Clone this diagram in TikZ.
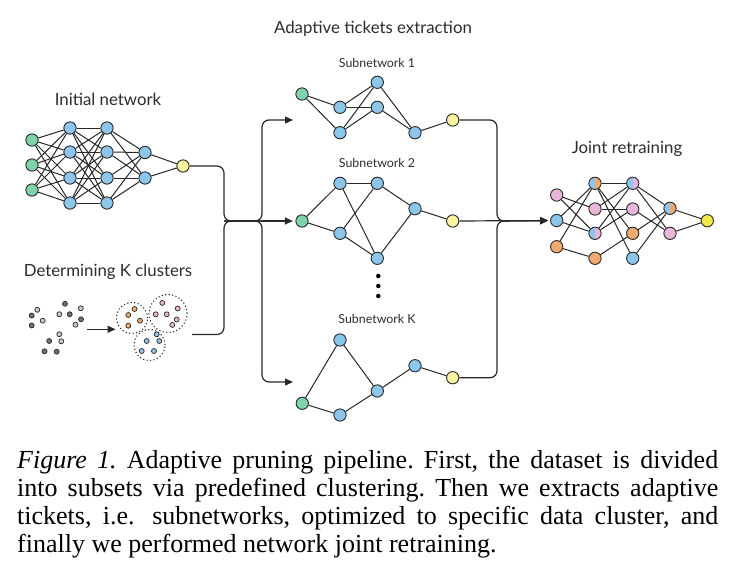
\documentclass[tikz,border=0pt]{standalone}
\usepackage{fontspec}
\setmainfont{Liberation Serif}
\newfontfamily\lab{Lato}
\usetikzlibrary{arrows.meta}
\definecolor{cgreen}{RGB}{128,210,172}
\definecolor{cblue}{RGB}{140,198,234}
\definecolor{cyel}{RGB}{249,242,160}
\definecolor{cyelb}{RGB}{242,232,72}
\definecolor{cpink}{RGB}{232,182,216}
\definecolor{corange}{RGB}{238,170,112}
\definecolor{cdark}{RGB}{112,112,112}
\definecolor{clight}{RGB}{202,202,202}
\definecolor{cline}{RGB}{40,40,40}
\definecolor{ctext}{RGB}{45,45,45}
\tikzset{
  neuron/.style={circle, draw=cline, line width=0.9pt, minimum size=12.3pt, inner sep=0pt},
  half/.style 2 args={neuron, path picture={
      \fill[#1] (path picture bounding box.south west) rectangle (path picture bounding box.north);
      \fill[#2] (path picture bounding box.north east) rectangle (path picture bounding box.south);}},
  edge/.style={draw=cline, line width=1.0pt},
  conn/.style={draw=cline, line width=1.2pt, rounded corners=7pt},
  tip/.style={-{Triangle[length=8pt,width=7pt]}},
  pt/.style={circle, draw=cline, line width=0.7pt, minimum size=5pt, inner sep=0pt},
  clus/.style={circle, draw=cline, line width=1.1pt, dash pattern=on 1.1pt off 2.4pt, inner sep=0pt},
  title/.style={font=\lab\fontsize{16.8}{19}\selectfont, text=ctext},
  subtitle/.style={font=\lab\fontsize{12.4}{14}\selectfont, text=ctext},
  kdot/.style={circle, fill=black, minimum size=4.5pt, inner sep=0pt},
}
\begin{document}
\begin{tikzpicture}[x=1pt,y=-1pt]
\useasboundingbox (0,0) rectangle (735,582);
\fill[white] (0,0) rectangle (735,582);

% ---------- titles
\node[title] (tinit) at (108,99) {Initial network};
\node[title] (tclus) at (108,272) {Determining K clusters};
\node[title] (tada) at (373,29) {Adaptive tickets extraction};
\node[title] (tjoint) at (627,149) {Joint retraining};
\node[subtitle] (ts1) at (377,63) {Subnetwork 1};
\node[subtitle] (ts2) at (377,163) {Subnetwork 2};
\node[subtitle] (tsk) at (377,319) {Subnetwork K};

% ---------- initial network
\foreach \j/\y in {1/140,2/165,3/190} \node[neuron, fill=cgreen] (iA\j) at (32,\y) {};
\foreach \j/\y in {1/128,2/152,3/178,4/203} \node[neuron, fill=cblue] (iB\j) at (70,\y) {};
\foreach \j/\y in {1/128,2/152,3/178,4/203} \node[neuron, fill=cblue] (iC\j) at (107,\y) {};
\foreach \j/\y in {1/152.5,2/178} \node[neuron, fill=cblue] (iD\j) at (145,\y) {};
\node[neuron, fill=cyel] (iE) at (183,166) {};
\foreach \a in {1,2,3} \foreach \b in {1,...,4} \draw[edge] (iA\a) -- (iB\b);
\foreach \a in {1,...,4} \foreach \b in {1,...,4} \draw[edge] (iB\a) -- (iC\b);
\foreach \a in {1,...,4} \foreach \b in {1,2} \draw[edge] (iC\a) -- (iD\b);
\foreach \a in {1,2} \draw[edge] (iD\a) -- (iE);

% ---------- clustering
\foreach \n/\x/\y/\c in {1/31.7/315.5/cdark,2/37.3/309.8/clight,3/42.7/320.7/clight,4/31.7/325.5/cdark,
  5/65/303.8/cdark,6/59.3/314.2/clight,7/69.7/314.2/cdark,8/80.8/308.3/clight,9/81/319.3/cdark,10/75.5/324.7/clight,
  11/59.3/334.2/clight,12/49.2/341/cdark,13/61.3/341.3/clight,14/44.5/351.3/cdark,15/56.7/351.7/cdark}
  \node[pt, fill=\c] (g\n) at (\x,\y) {};
\coordinate (ga) at (87,329.3);
\coordinate (gb) at (115.5,329.3);
\draw[conn, tip] (ga) -- (gb);
\node[clus, minimum size=31pt] (co) at (132,318) {};
\node[clus, minimum size=38pt] (cp) at (168,313.5) {};
\node[clus, minimum size=31pt] (cb) at (149.5,345) {};
\foreach \n/\x/\y in {1/134.5/309,2/128.3/315,3/140/320.7,4/128.3/325.7}
  \node[pt, fill=corange] (o\n) at (\x,\y) {};
\foreach \n/\x/\y in {1/162.3/302.9,2/177.7/308.5,3/155.7/314.3,4/166.7/314.3,5/176.7/319.5,6/172.3/324.9}
  \node[pt, fill=cpink] (p\n) at (\x,\y) {};
\foreach \n/\x/\y in {1/156.7/334.3,2/146.7/341,3/159.3/341,4/141.7/351,5/154/351}
  \node[pt, fill=cblue] (b\n) at (\x,\y) {};

% ---------- subnetwork 1
\node[neuron, fill=cgreen] (sAg) at (302,94) {};
\node[neuron, fill=cblue] (sAa) at (340,107.3) {};
\node[neuron, fill=cblue] (sAb) at (340,132.7) {};
\node[neuron, fill=cblue] (sAc) at (377.3,82.3) {};
\node[neuron, fill=cblue] (sAd) at (377.3,107.3) {};
\node[neuron, fill=cblue] (sAe) at (415,132.7) {};
\node[neuron, fill=cyel] (sAy) at (452.7,120) {};
\foreach \a/\b in {sAg/sAa,sAg/sAb,sAa/sAc,sAa/sAd,sAb/sAc,sAb/sAd,sAc/sAe,sAd/sAe,sAe/sAy}
  \draw[edge] (\a) -- (\b);

% ---------- subnetwork 2
\node[neuron, fill=cgreen] (sBg) at (302,221) {};
\node[neuron, fill=cblue] (sBa) at (340,183.3) {};
\node[neuron, fill=cblue] (sBb) at (340,233.3) {};
\node[neuron, fill=cblue] (sBc) at (377.3,183.3) {};
\node[neuron, fill=cblue] (sBd) at (377.3,258.3) {};
\node[neuron, fill=cblue] (sBe) at (415,208.7) {};
\node[neuron, fill=cyel] (sBy) at (452.7,221) {};
\foreach \a/\b in {sBg/sBa,sBg/sBb,sBa/sBc,sBa/sBd,sBb/sBc,sBb/sBd,sBc/sBe,sBd/sBe,sBe/sBy}
  \draw[edge] (\a) -- (\b);
\foreach \n/\y in {1/276,2/286,3/296} \node[kdot] (k\n) at (378.3,\y) {};

% ---------- subnetwork K
\node[neuron, fill=cgreen] (sKg) at (302.3,403.3) {};
\node[neuron, fill=cblue] (sKa) at (340,340) {};
\node[neuron, fill=cblue] (sKb) at (340,415) {};
\node[neuron, fill=cblue] (sKc) at (377.3,391) {};
\node[neuron, fill=cblue] (sKe) at (415,365.7) {};
\node[neuron, fill=cyel] (sKy) at (452.7,377.7) {};
\foreach \a/\b in {sKg/sKa,sKg/sKb,sKa/sKc,sKb/sKc,sKc/sKe,sKe/sKy}
  \draw[edge] (\a) -- (\b);

% ---------- joint retraining
\node[neuron, fill=cpink] (jA1) at (556.7,195) {};
\node[neuron, fill=cblue] (jA2) at (556.7,220.5) {};
\node[neuron, fill=corange] (jA3) at (556.7,246.7) {};
\node[half={cblue}{corange}] (jB1) at (595,183.3) {};
\node[neuron, fill=cpink] (jB2) at (595,209) {};
\node[half={cblue}{cpink}] (jB3) at (595,233.3) {};
\node[neuron, fill=corange] (jB4) at (595,258.3) {};
\node[half={cblue}{cpink}] (jC1) at (632.7,183.3) {};
\node[neuron, fill=cpink] (jC2) at (632.7,209) {};
\node[neuron, fill=corange] (jC3) at (632.7,233.3) {};
\node[neuron, fill=cblue] (jC4) at (632.7,258.3) {};
\node[half={cblue}{corange}] (jD1) at (670,208.3) {};
\node[neuron, fill=cpink] (jD2) at (670,233.3) {};
\node[neuron, fill=cyelb] (jE) at (707.3,220.7) {};
\foreach \a/\b in {jA1/jB2,jA1/jB3,jA2/jB1,jA2/jB3,jA3/jB1,jA3/jB4,
  jB1/jC1,jB1/jC3,jB1/jC4,jB2/jC1,jB2/jC2,jB3/jC1,jB3/jC2,jB4/jC3,
  jC1/jD1,jC1/jD2,jC2/jD2,jC3/jD1,jC4/jD1,jD1/jE,jD2/jE}
  \draw[edge] (\a) -- (\b);

% ---------- connectors
\coordinate (mL) at (224,221);
\coordinate (sp) at (262,221);
\coordinate (cout) at (192,334.5);
\coordinate (a1) at (293,120);
\coordinate (a3) at (293,382);
\draw[conn] (iE) -- (iE -| mL) -- (mL) -- (sp);
\draw[conn] (cout) -- (cout -| mL) -- (mL) -- (sp);
\draw[conn, tip] (mL) -- (sp) -- (sp |- a1) -- (a1);
\draw[conn, tip] (mL) -- (sp) -- (sp |- a3) -- (a3);
\draw[conn, tip, shorten >=2.5pt] (sp) -- (sBg);

\coordinate (mR) at (497,221);
\draw[conn, tip, shorten >=2pt] (sAy) -- (sAy -| mR) -- (mR) -- (jA2);
\draw[conn, tip, shorten >=2pt] (sKy) -- (sKy -| mR) -- (mR) -- (jA2);
\draw[conn, tip, shorten >=2pt] (sBy) -- (jA2);

% ---------- caption
\node[anchor=north west, inner sep=0pt, text width=701pt, align=justify,
  font=\fontsize{26}{28}\selectfont\frenchspacing] (cap) at (17,450)
  {\textit{Figure 1.} Adaptive pruning pipeline. First, the dataset is divided\linebreak
   into subsets via predefined clustering. Then we extracts adaptive\linebreak
   tickets, i.e.\hskip0.25em\ subnetworks, optimized to specific data cluster, and\linebreak
   finally we performed network joint retraining.};
\end{tikzpicture}
\end{document}
